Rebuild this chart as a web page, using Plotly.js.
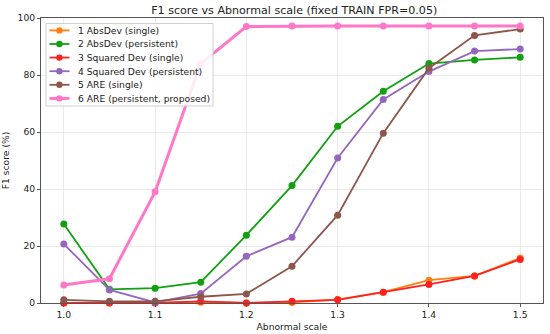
<!DOCTYPE html>
<html>
<head>
<meta charset="utf-8">
<script src="https://cdn.plot.ly/plotly-3.0.1.min.js"></script>
<style>html,body{margin:0;padding:0;background:#fff}#chart{width:550px;height:334px}</style>
</head>
<body>
<div id="chart"></div>
<script>
const xScale = [1.0, 1.05, 1.1, 1.15, 1.2, 1.25, 1.3, 1.35, 1.4, 1.45, 1.5];
const absDevSingle = [0, 0, 0, 0.3, 0, 0.2, 1.2, 3.8, 8.0, 9.5, 15.8];
const absDevPersistent = [27.7, 4.8, 5.2, 7.3, 23.8, 41.2, 62.0, 74.3, 84.0, 85.3, 86.2];
const sqDevSingle = [0, 0, 0, 0.6, 0, 0.6, 1.1, 3.8, 6.5, 9.5, 15.3];
const sqDevPersistent = [20.7, 4.6, 0.2, 3.3, 16.4, 23.1, 50.9, 71.4, 81.2, 88.4, 89.1];
const areSingle = [1.1, 0.6, 0.6, 2.2, 3.2, 12.9, 30.8, 59.6, 82.4, 93.9, 96.1];
const arePersistent = [6.3, 8.5, 39.0, 84.0, 97.0, 97.2, 97.2, 97.2, 97.2, 97.2, 97.2];
const names = ["1 AbsDev (single)", "2 AbsDev (persistent)", "3 Squared Dev (single)", "4 Squared Dev (persistent)", "5 ARE (single)", "6 ARE (persistent, proposed)"];
const colors = ["#ff7f0e", "#10a010", "#ff2020", "#9467bd", "#8c564b", "#ff77c8"];
const series = [absDevSingle, absDevPersistent, sqDevSingle, sqDevPersistent, areSingle, arePersistent];
const widths = [1.8, 1.8, 1.8, 1.8, 1.8, 3];

const traces = series.map((y, i) => ({
  x: xScale, y: y, name: names[i], type: 'scatter', mode: 'lines+markers',
  line: {color: colors[i], width: widths[i]},
  marker: {color: colors[i], size: 7},
  cliponaxis: false, showlegend: false
}));

// plot-area geometry (pixels) for the hand-built legend
const M = {l: 41, r: 7, t: 18, b: 31};
const W = 550, H = 334;
const pw = W - M.l - M.r, ph = H - M.t - M.b;
const px = v => (v - M.l) / pw;
const py = v => (H - M.b - v) / ph;

const shapes = [];
const annotations = [];
shapes.push({type: 'rect', xref: 'paper', yref: 'paper', x0: px(46), x1: px(213), y0: py(23.5), y1: py(106),
  line: {color: '#d0d0d0', width: 1}, fillcolor: 'rgba(255,255,255,0.85)', layer: 'above'});
names.forEach((n, i) => {
  const cy = 30.4 + i * 13.6;
  shapes.push({type: 'line', xref: 'paper', yref: 'paper', x0: px(49.5), x1: px(69.5), y0: py(cy), y1: py(cy),
    line: {color: colors[i], width: widths[i]}, layer: 'above'});
  shapes.push({type: 'circle', xref: 'paper', yref: 'paper', x0: px(56.2), x1: px(62.6), y0: py(cy + 3.2), y1: py(cy - 3.2),
    line: {width: 0}, fillcolor: colors[i], layer: 'above'});
  annotations.push({xref: 'paper', yref: 'paper', x: px(75.5), y: py(cy), xanchor: 'left', yanchor: 'middle',
    text: n, showarrow: false, font: {family: 'DejaVu Sans, sans-serif', size: 9.2, color: '#222'}});
});

const font = {family: 'DejaVu Sans, sans-serif', size: 9.2, color: '#222'};
const layout = {
  width: W, height: H,
  margin: M,
  paper_bgcolor: '#fff', plot_bgcolor: '#fff',
  font: font,
  title: {text: 'F1 score vs Abnormal scale (fixed TRAIN FPR=0.05)', font: {family: 'DejaVu Sans, sans-serif', size: 11.1, color: '#222'}, x: 0.535, xanchor: 'center', y: 1 - 10 / H, yanchor: 'middle'},
  xaxis: {
    range: [0.975, 1.525], tickvals: [1.0, 1.1, 1.2, 1.3, 1.4, 1.5], ticktext: ['1.0', '1.1', '1.2', '1.3', '1.4', '1.5'],
    showgrid: true, gridcolor: '#ebebeb', gridwidth: 1, zeroline: false,
    showline: true, linecolor: '#555', linewidth: 1, mirror: true,
    ticks: 'outside', ticklen: 3, tickcolor: '#555',
    title: {text: 'Abnormal scale', font: font, standoff: 4}
  },
  yaxis: {
    range: [0, 100], tickvals: [0, 20, 40, 60, 80, 100],
    showgrid: true, gridcolor: '#ebebeb', gridwidth: 1, zeroline: false,
    showline: true, linecolor: '#555', linewidth: 1, mirror: true,
    ticks: 'outside', ticklen: 3, tickcolor: '#555',
    title: {text: 'F1 score (%)', font: font, standoff: 6}
  },
  shapes: shapes,
  annotations: annotations,
  showlegend: false
};
Plotly.newPlot('chart', traces, layout, {displayModeBar: false, staticPlot: true});
</script>
</body>
</html>
